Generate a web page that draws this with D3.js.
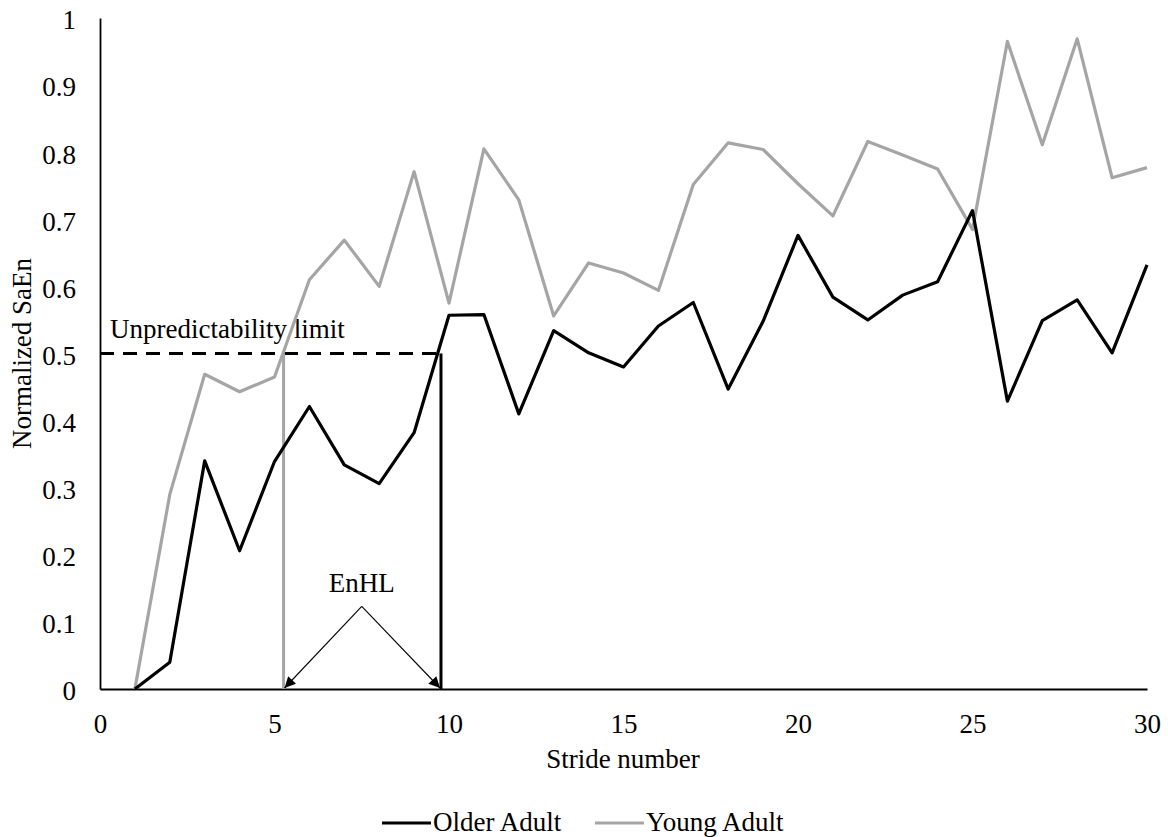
<!DOCTYPE html>
<html>
<head>
<meta charset="utf-8">
<script src="https://cdn.jsdelivr.net/npm/d3@7"></script>
<style>
  html, body { margin: 0; padding: 0; background: #fff; }
  svg { display: block; }
  svg text { font-family: "Liberation Serif", "Times New Roman", Times, "DejaVu Serif", serif; fill: #000; }
</style>
</head>
<body>
<svg id="chart" width="1168" height="837"></svg>
<script>
// Stride numbers and normalized sample entropy per group
const strides = d3.range(1, 31);
const olderAdult = [0, 0.040, 0.340, 0.206, 0.339, 0.421, 0.334, 0.306, 0.382, 0.557,
                    0.558, 0.410, 0.534, 0.501, 0.480, 0.541, 0.576, 0.447, 0.548, 0.676,
                    0.584, 0.550, 0.587, 0.607, 0.713, 0.429, 0.549, 0.580, 0.501, 0.632];
const youngAdult = [0, 0.290, 0.469, 0.443, 0.465, 0.610, 0.669, 0.600, 0.771, 0.575,
                    0.805, 0.729, 0.556, 0.635, 0.620, 0.594, 0.752, 0.814, 0.804, 0.753,
                    0.705, 0.816, 0.796, 0.775, 0.685, 0.965, 0.811, 0.969, 0.762, 0.777];
const xTicks = [0, 5, 10, 15, 20, 25, 30];
const yTicks = [0, 0.1, 0.2, 0.3, 0.4, 0.5, 0.6, 0.7, 0.8, 0.9, 1];
const limit = 0.5;              // unpredictability limit
const enhlYoung = 5.26;         // stride where young adults cross the limit
const enhlOlder = 9.77;         // stride where older adults cross the limit
const enhlApex = [7.5, 0.123];  // where the EnHL arrows meet
const seriesNames = ["Older Adult", "Young Adult"];
const colors = { older: "#000000", young: "#a5a5a5" };

const svg = d3.select("#chart");
const fontSize = 27;
const x = d3.scaleLinear().domain([0, 30]).range([100, 1147]);
const y = d3.scaleLinear().domain([0, 1]).range([689, 18]);

svg.append("defs").append("marker")
  .attr("id", "arrow")
  .attr("viewBox", "0 0 10 10")
  .attr("refX", 10).attr("refY", 5)
  .attr("markerWidth", 13).attr("markerHeight", 11)
  .attr("markerUnits", "userSpaceOnUse")
  .attr("orient", "auto")
  .append("path").attr("d", "M0,0 L10,5 L0,10 Z").attr("fill", "#000");

// Axes
const xAxis = svg.append("g")
  .attr("transform", `translate(0,${y(0)})`)
  .call(d3.axisBottom(x).tickValues(xTicks).tickSize(0).tickFormat(d3.format("d")))
  .attr("font-family", null).attr("font-size", fontSize);
xAxis.select(".domain").attr("stroke", "#000").attr("stroke-width", 1.8);
xAxis.selectAll("text").attr("y", 44).attr("dy", null);

const yAxis = svg.append("g")
  .attr("transform", `translate(${x(0)},0)`)
  .call(d3.axisLeft(y).tickValues(yTicks).tickSize(0).tickFormat(d => String(+d.toFixed(1))))
  .attr("font-family", null).attr("font-size", fontSize);
yAxis.select(".domain").attr("stroke", "#000").attr("stroke-width", 1.8);
yAxis.selectAll("text").attr("x", -24).attr("dy", "0.4em");

// Axis titles
svg.append("text")
  .attr("x", 623).attr("y", 768)
  .attr("text-anchor", "middle").attr("font-size", fontSize)
  .text("Stride number");
svg.append("text")
  .attr("transform", `translate(31,${(y(0) + y(1)) / 2}) rotate(-90)`)
  .attr("text-anchor", "middle").attr("font-size", fontSize)
  .text("Normalized SaEn");

// Unpredictability limit
svg.append("line")
  .attr("x1", x(0)).attr("x2", x(enhlOlder) - 4)
  .attr("y1", y(limit)).attr("y2", y(limit))
  .attr("stroke", "#000").attr("stroke-width", 3)
  .attr("stroke-dasharray", "14,9");
svg.append("text")
  .attr("x", x(0) + 10).attr("y", y(limit) - 16)
  .attr("font-size", fontSize)
  .text("Unpredictability limit");

// Vertical markers at the crossing strides
svg.append("line")
  .attr("x1", x(enhlYoung)).attr("x2", x(enhlYoung))
  .attr("y1", y(0)).attr("y2", y(limit))
  .attr("stroke", colors.young).attr("stroke-width", 3);
svg.append("line")
  .attr("x1", x(enhlOlder)).attr("x2", x(enhlOlder))
  .attr("y1", y(0)).attr("y2", y(limit))
  .attr("stroke", colors.older).attr("stroke-width", 3);

// Series lines
const line = d3.line().x((d, i) => x(strides[i])).y(d => y(d));
svg.append("path").datum(youngAdult)
  .attr("d", line).attr("fill", "none")
  .attr("stroke", colors.young).attr("stroke-width", 3.2)
  .attr("stroke-linejoin", "round");
svg.append("path").datum(olderAdult)
  .attr("d", line).attr("fill", "none")
  .attr("stroke", colors.older).attr("stroke-width", 3.2)
  .attr("stroke-linejoin", "round");

// EnHL annotation
[enhlYoung, enhlOlder].forEach(s => {
  svg.append("line")
    .attr("x1", x(enhlApex[0])).attr("y1", y(enhlApex[1]))
    .attr("x2", x(s) + (s < enhlApex[0] ? 1 : -1)).attr("y2", y(0) - 1)
    .attr("stroke", "#000").attr("stroke-width", 1.1)
    .attr("marker-end", "url(#arrow)");
});
svg.append("text")
  .attr("x", x(enhlApex[0])).attr("y", 592)
  .attr("text-anchor", "middle").attr("font-size", fontSize)
  .text("EnHL");

// Legend
const legend = svg.append("g");
const legendItems = [
  { name: seriesNames[0], color: colors.older, x0: 382 },
  { name: seriesNames[1], color: colors.young, x0: 595 }
];
legendItems.forEach(item => {
  legend.append("line")
    .attr("x1", item.x0).attr("x2", item.x0 + 49)
    .attr("y1", 823).attr("y2", 823)
    .attr("stroke", item.color).attr("stroke-width", 3.2);
  legend.append("text")
    .attr("x", item.x0 + 51).attr("y", 831)
    .attr("font-size", fontSize)
    .text(item.name);
});
</script>
</body>
</html>
